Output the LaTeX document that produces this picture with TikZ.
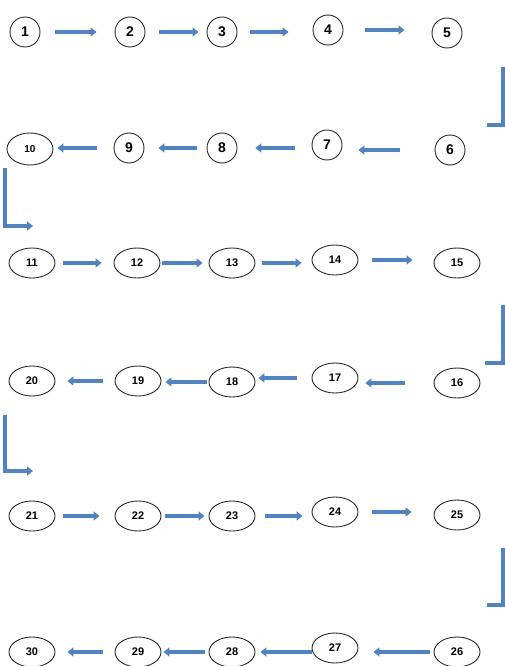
\documentclass[tikz,border=0pt]{standalone}
\usepackage{fontspec}
\setmainfont{Liberation Sans}
\usetikzlibrary{shapes.geometric,arrows.meta}
\definecolor{flow}{RGB}{80,131,192}
\definecolor{edge}{RGB}{40,40,40}
\tikzset{
  circ/.style={circle,draw=edge,line width=0.9pt,minimum size=30pt,inner sep=0pt,font=\bfseries\fontsize{14}{14}\selectfont},
  ell/.style={ellipse,draw=edge,line width=0.9pt,minimum width=46pt,minimum height=30pt,inner sep=0pt,font=\bfseries\fontsize{11}{11}\selectfont},
  arr/.style={draw=flow,line width=4pt,-{Triangle[length=6pt,width=9pt]}},
  conn/.style={draw=flow,line width=4pt},
}
\newcommand\harr[4]{\draw[arr,shorten <=#3pt,shorten >=#4pt] (#1) -- (#1 -| #2);}
\newcommand\harrb[4]{\draw[arr,shorten <=#3pt,shorten >=#4pt] (#1 |- #2) -- (#2);}
\begin{document}
\begin{tikzpicture}[x=1pt,y=-1pt]
\useasboundingbox (0,0) rectangle (505,666);
% row 1
\node[circ] (n1) at (25,32) {1};
\node[circ] (n2) at (130,32) {2};
\node[circ] (n3) at (222,32) {3};
\node[circ] (n4) at (328,30) {4};
\node[circ] (n5) at (447,33) {5};
% row 2
\node[ell,minimum height=32pt,font=\bfseries\fontsize{10}{10}\selectfont] (n10) at (30,149) {10};
\node[circ] (n9) at (129,148) {9};
\node[circ] (n8) at (222,148) {8};
\node[circ] (n7) at (327,145) {7};
\node[circ] (n6) at (450,150) {6};
% row 3
\node[ell] (n11) at (32,263) {11};
\node[ell] (n12) at (137,263) {12};
\node[ell] (n13) at (232,263) {13};
\node[ell] (n14) at (335,260) {14};
\node[ell] (n15) at (457,263) {15};
% row 4
\node[ell] (n20) at (32,381) {20};
\node[ell] (n19) at (138,381) {19};
\node[ell] (n18) at (232,382) {18};
\node[ell] (n17) at (335,378) {17};
\node[ell] (n16) at (457,383) {16};
% row 5
\node[ell] (n21) at (32,516) {21};
\node[ell] (n22) at (138,516) {22};
\node[ell] (n23) at (232,516) {23};
\node[ell] (n24) at (335,512) {24};
\node[ell] (n25) at (457,515) {25};
% row 6
\node[ell] (n30) at (32,652) {30};
\node[ell] (n29) at (138,652) {29};
\node[ell] (n28) at (232,652) {28};
\node[ell] (n27) at (335,648) {27};
\node[ell] (n26) at (457,652) {26};
% row arrows
\harr{n1.east}{n2.west}{15}{18}
\harr{n2.east}{n3.west}{14}{8}
\harr{n3.east}{n4.west}{13}{24}
\harr{n4.east}{n5.west}{22}{27}
\harr{n9.west}{n10.east}{17}{4}
\harr{n8.west}{n9.east}{10}{14}
\harrb{n7.west}{n8.east}{17}{18}
\harr{n6.west}{n7.east}{35}{16}
\harr{n11.east}{n12.west}{8}{12}
\harr{n12.east}{n13.west}{2}{6}
\harr{n13.east}{n14.west}{7}{10}
\harr{n14.east}{n15.west}{14}{21}
\harr{n19.west}{n20.east}{12}{12}
\harr{n18.west}{n19.east}{2}{4}
\harr{n17.west}{n18.east}{15}{3}
\harr{n16.west}{n17.east}{29}{7}
\harr{n21.east}{n22.west}{8}{15}
\harr{n22.east}{n23.west}{4}{4}
\harr{n23.east}{n24.west}{10}{9}
\harr{n24.east}{n25.west}{14}{22}
\harr{n29.west}{n30.east}{12}{12}
\harr{n28.west}{n29.east}{4}{2}
\harrb{n27.west}{n28.east}{0}{5}
\harr{n26.west}{n27.east}{4}{15}
% elbow connectors, right side
\coordinate (ra1) at (503,67);  \coordinate (rb1) at (487,125);
\coordinate (ra2) at (503,305); \coordinate (rb2) at (485,363);
\coordinate (ra3) at (503,548); \coordinate (rb3) at (487,605);
\draw[conn] (ra1) |- (rb1);
\draw[conn] (ra2) |- (rb2);
\draw[conn] (ra3) |- (rb3);
% elbow connectors, left side
\coordinate (la1) at (5,168); \coordinate (lb1) at (33,226);
\coordinate (la2) at (5,415); \coordinate (lb2) at (33,471);
\draw[arr] (la1) |- (lb1);
\draw[arr] (la2) |- (lb2);
\end{tikzpicture}
\end{document}
